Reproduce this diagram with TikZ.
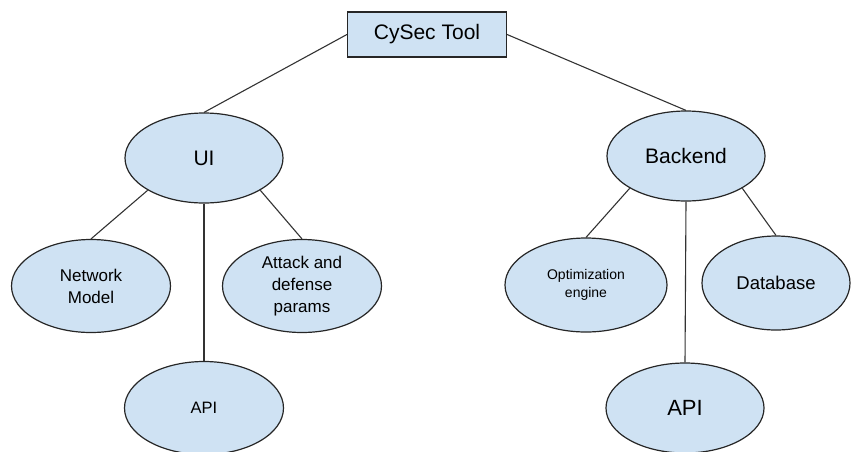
\documentclass[tikz,border=0pt]{standalone}
\usepackage{fontspec}
\setmainfont{Liberation Sans}
\usetikzlibrary{shapes.geometric}
\definecolor{boxfill}{HTML}{CFE2F3}
\definecolor{edgecol}{HTML}{333333}
\tikzset{
  rootbox/.style={draw=black!85, line width=1.2pt, fill=boxfill, minimum width=159pt, minimum height=45pt, inner sep=0pt, font=\fontsize{21}{25}\selectfont},
  oval/.style={ellipse, draw=black!85, line width=1.2pt, fill=boxfill, inner sep=0pt, align=center},
  bigoval/.style={oval, minimum width=158pt, minimum height=90pt, font=\fontsize{21}{25}\selectfont},
  leafoval/.style={oval, minimum width=159pt, minimum height=93pt, font=\fontsize{17}{22}\selectfont},
  link/.style={draw=edgecol, line width=1.1pt}
}
\begin{document}
\begin{tikzpicture}[x=1pt, y=-1pt]
  \useasboundingbox (0,0) rectangle (851,451);
  % tree nodes
  \node[rootbox] (root) at (427,34.5) {CySec Tool};
  \node[bigoval] (ui) at (204,158) {UI};
  \node[bigoval] (backend) at (686,156) {Backend};
  \node[leafoval] (netmodel) at (91,286) {Network\\Model};
  \node[leafoval] (attack) at (302,286) {Attack and\\defense\\params};
  \node[leafoval, font=\fontsize{16.5}{20}\selectfont] (uiapi) at (204,408) {API};
  \node[leafoval, minimum width=162pt, minimum height=94pt, font=\fontsize{14}{18}\selectfont] (optim) at (586,285) {Optimization\\engine};
  \node[leafoval, minimum width=148pt, minimum height=94pt, font=\fontsize{18.5}{22}\selectfont] (db) at (776,283) {Database};
  \node[bigoval, font=\fontsize{22}{26}\selectfont] (beapi) at (685,408) {API};
  % connectors
  \draw[link] (root.west) -- (ui.north);
  \draw[link] (root.east) -- (backend.north);
  \draw[link] (ui.south west) -- (netmodel.north);
  \draw[link] (ui.south east) -- (attack.north);
  \draw[link] (ui.south) -- (uiapi.north);
  \draw[link] (backend.south west) -- (optim.north);
  \draw[link] (backend.south east) -- (db.north);
  \draw[link] (backend.south) -- (beapi.north);
\end{tikzpicture}
\end{document}
